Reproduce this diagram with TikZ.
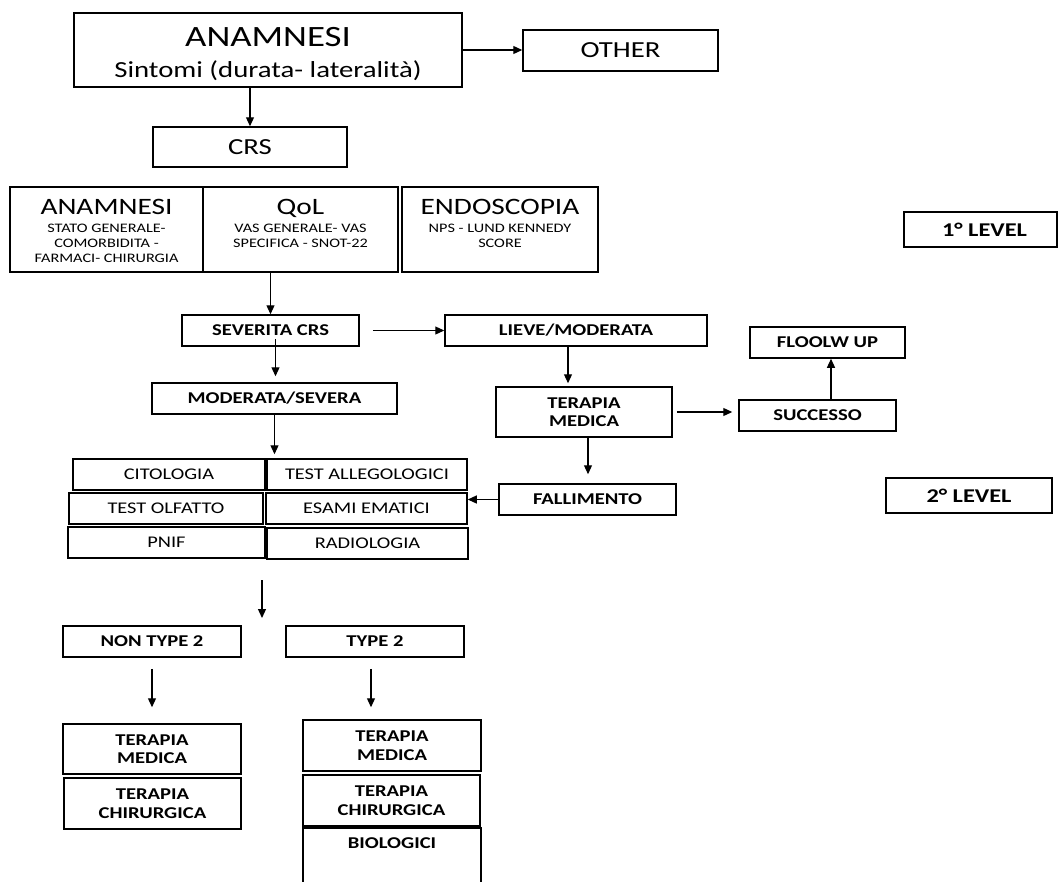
\documentclass[tikz,border=0pt]{standalone}
\usepackage{fontspec}
\setmainfont{Carlito}[FakeStretch=1.25]
\usetikzlibrary{arrows.meta}

\tikzset{
  box/.style={draw, line width=1.5pt, inner sep=0pt, align=center},
  sz/.style 2 args={minimum width=#1pt, minimum height=#2pt},
  bbox/.style={box, font=\bfseries\fontsize{16.5}{18.5}\selectfont},
  tbox/.style={box, font=\fontsize{16.3}{19}\selectfont},
  head/.style={anchor=north, inner sep=0pt, align=center, font=\fontsize{13}{15}\selectfont},
  arr/.style={-{Triangle[length=9pt,width=8pt]}, line width=1.2pt},
}

\begin{document}
\begin{tikzpicture}[x=1pt,y=-1pt]
\useasboundingbox (0,0) rectangle (1059,881);

\node[box, sz={388}{74}] (anam) at (268,50) {};
\node[inner sep=0pt, align=center, yshift=-4pt, font=\fontsize{23}{31}\selectfont] (anamtxt) at (anam.center) {{\fontsize{29.5}{31}\selectfont ANAMNESI}\\Sintomi (durata- lateralità)};
\node[box, sz={195}{41}, font=\fontsize{23}{26}\selectfont] (other) at (620.5,50.5) {OTHER};
\node[box, sz={194}{40}, font=\fontsize{23}{26}\selectfont] (crs) at (250,147) {CRS};

\node[box, sz={193}{85}] (anamb) at (106.5,229.5) {};
\node[box, sz={195}{85}] (qol) at (300.5,229.5) {};
\node[box, sz={196}{85}] (endo) at (500,229.5) {};
\node[head, yshift=-13pt] (anambtxt) at (anamb.north) {{\fontsize{23.5}{27}\selectfont ANAMNESI}\\[3pt]STATO GENERALE-\\COMORBIDITA -\\FARMACI- CHIRURGIA};
\node[head, yshift=-13pt] (qoltxt) at (qol.north) {{\fontsize{23.5}{27}\selectfont QoL}\\[3pt]VAS GENERALE- VAS\\SPECIFICA - SNOT-22};
\node[head, yshift=-13pt] (endotxt) at (endo.north) {{\fontsize{23.5}{27}\selectfont ENDOSCOPIA}\\[3pt]NPS - LUND KENNEDY\\SCORE};

\node[bbox, sz={153}{35}, font=\bfseries\fontsize{19.5}{22}\selectfont] (lvl1) at (980.5,229.5) {\hspace*{8pt}1° LEVEL};
\node[bbox, sz={166}{35}, font=\bfseries\fontsize{19.5}{22}\selectfont] (lvl2) at (969,495.5) {2° LEVEL};

\node[bbox, sz={177}{31}] (severita) at (270.5,330.5) {SEVERITA CRS};
\node[bbox, sz={262}{31}] (lieve) at (576,330.5) {LIEVE/MODERATA};
\node[bbox, sz={245}{31}] (modsev) at (274.5,398.5) {MODERATA/SEVERA};
\node[bbox, sz={176}{50}] (tmed) at (584,412) {TERAPIA\\MEDICA};
\node[bbox, sz={157}{31}] (succ) at (817.5,415.5) {SUCCESSO};
\node[bbox, sz={155}{31}] (follow) at (827.5,342.5) {FLOOLW UP};
\node[bbox, sz={177}{31}] (fail) at (587.5,499.5) {FALLIMENTO};

\node[tbox, sz={192}{31}] (cito) at (169,474.5) {CITOLOGIA};
\node[tbox, sz={200}{31}] (allerg) at (367,474.5) {TEST ALLEGOLOGICI};
\node[tbox, sz={194}{31}] (olf) at (166,508.5) {TEST OLFATTO};
\node[tbox, sz={201}{31}] (esami) at (366.5,508.5) {ESAMI EMATICI};
\node[tbox, sz={197}{31}] (pnif) at (166.5,542.5) {PNIF};
\node[tbox, sz={201}{31}] (radio) at (367.5,543.5) {RADIOLOGIA};

\coordinate (split) at (262,580);
\coordinate (splitend) at (262,618);

\node[bbox, sz={178}{31}] (nontype) at (152,641.5) {NON TYPE 2};
\node[bbox, sz={178}{31}] (typetwo) at (375,641.5) {TYPE 2};
\node[bbox, sz={178}{50}] (tmedl) at (152,749) {TERAPIA\\MEDICA};
\node[bbox, sz={177}{51}] (chirl) at (152.5,803.5) {TERAPIA\\CHIRURGICA};
\node[bbox, sz={178}{51}] (tmedr) at (392,745.5) {TERAPIA\\MEDICA};
\node[bbox, sz={177}{51}] (chirr) at (391.5,800.5) {TERAPIA\\CHIRURGICA};
\node[box, sz={178}{67}] (bio) at (392,861.5) {};
\node[head, yshift=-10pt, font=\bfseries\fontsize{16.5}{18.5}\selectfont] (biotxt) at (bio.north) {BIOLOGICI};

\draw[arr] (anam.east) -- (other.west |- anam.east);
\draw[arr] (anam.south -| crs.north) -- (crs.north);
\draw[arr] (qol.south -| severita.north) -- (severita.north);
\draw[arr] ([xshift=13pt]severita.east) -- (lieve.west);
\draw[arr, shorten >=6pt] ([xshift=5pt,yshift=8pt]severita.south) -- ([xshift=1pt]modsev.north);
\draw[arr, shorten >=4pt] (modsev.south) -- (modsev.south |- allerg.north);
\draw[arr, shorten >=3pt] ([xshift=-8pt]lieve.south) -- ([xshift=-8pt]lieve.south |- tmed.north);
\draw[arr, shorten <=4pt, shorten >=6pt] (tmed.east) -- (succ.west |- tmed.east);
\draw[arr] ([xshift=13.5pt]succ.north) -- ([xshift=13.5pt]succ.north |- follow.south);
\draw[arr, shorten >=9pt] ([xshift=4pt]tmed.south) -- ([xshift=4pt]tmed.south |- fail.north);
\draw[arr] (fail.west) -- (esami.east |- fail.west);
\draw[arr] (split) -- (splitend);
\draw[arr, shorten <=11pt, shorten >=16pt] (nontype.south) -- (nontype.south |- tmedl.north);
\draw[arr, shorten <=11pt, shorten >=12pt] ([xshift=-4pt]typetwo.south) -- ([xshift=-4pt]typetwo.south |- tmedr.north);
\end{tikzpicture}
\end{document}
